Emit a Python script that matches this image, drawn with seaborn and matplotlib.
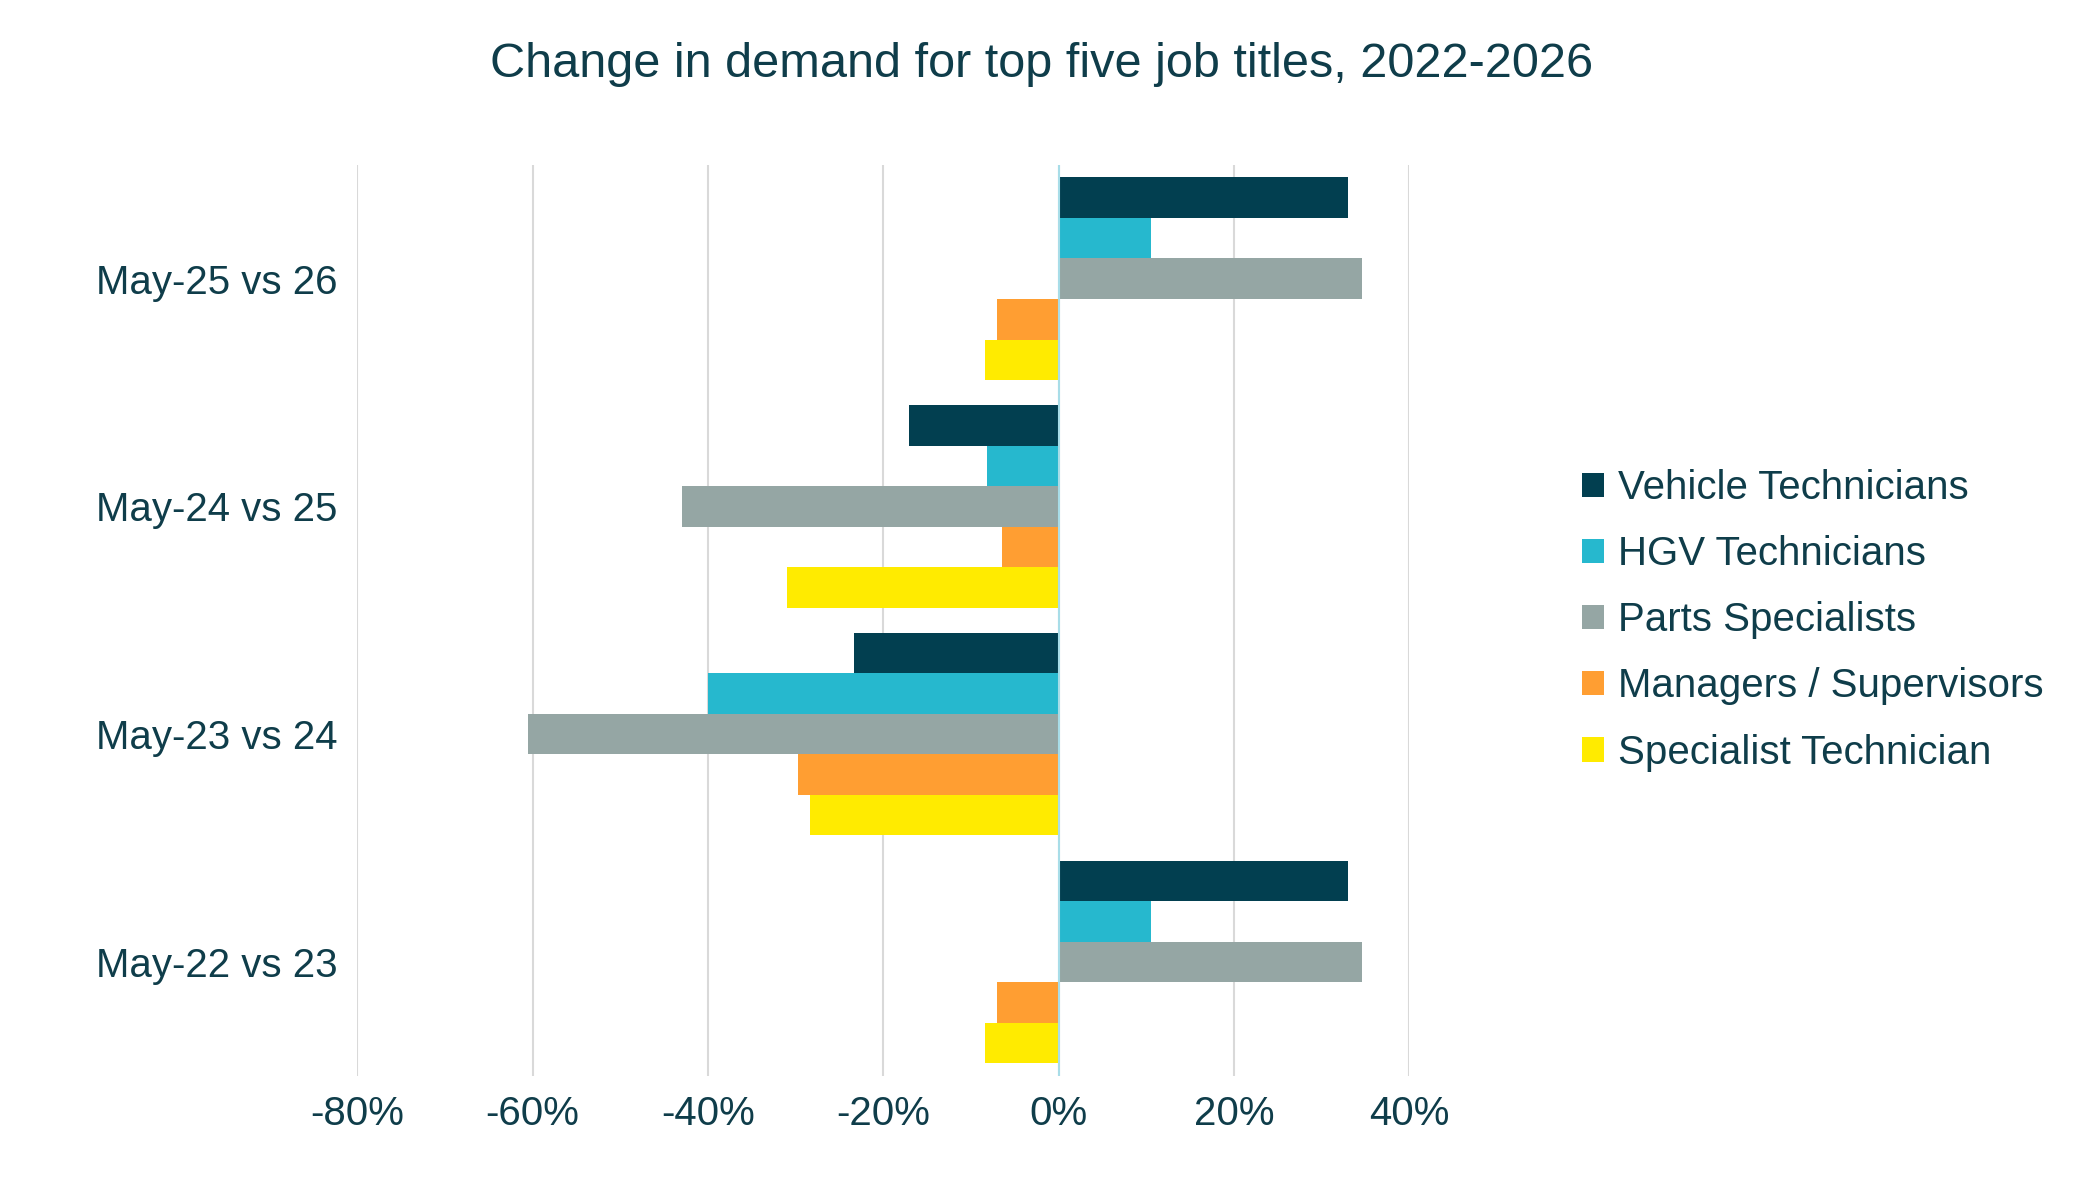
import matplotlib
matplotlib.use("Agg")
import matplotlib.pyplot as plt
import seaborn as sns
import pandas as pd
from matplotlib.ticker import FuncFormatter

categories = ["May-25 vs 26", "May-24 vs 25", "May-23 vs 24", "May-22 vs 23"]
series = ["Vehicle Technicians", "HGV Technicians", "Parts Specialists",
          "Managers / Supervisors", "Specialist Technician"]
vehicle = [0.33, -0.17, -0.233, 0.33]
hgv = [0.105, -0.082, -0.40, 0.105]
parts = [0.346, -0.43, -0.605, 0.346]
managers = [-0.07, -0.064, -0.297, -0.07]
specialist = [-0.084, -0.31, -0.283, -0.084]
colors = ["#023F50", "#26B8CE", "#95A6A4", "#FF9E32", "#FFEB00"]

vals = [vehicle, hgv, parts, managers, specialist]
rows = []
for s, v in zip(series, vals):
    for c, x in zip(categories, v):
        rows.append({"cat": c, "series": s, "value": x})
df = pd.DataFrame(rows)

sns.set_style("white")
txt = "#0F3D4A"
plt.rcParams["font.family"] = ["Liberation Sans", "DejaVu Sans"]
fig = plt.figure(figsize=(20.83, 11.86), dpi=100)
ax = fig.add_axes([0.1715, 0.093, 0.505, 0.768])
sns.barplot(data=df, y="cat", x="value", hue="series", order=categories,
            hue_order=series, palette=colors, orient="h", width=0.89,
            saturation=1, ax=ax, linewidth=0)
ax.set_xlim(-0.8, 0.4)
ax.set_xticks([-0.8, -0.6, -0.4, -0.2, 0, 0.2, 0.4])
ax.xaxis.set_major_formatter(FuncFormatter(lambda v, p: f"{round(v*100):.0f}%"))
ax.grid(axis="x", color="#D9D9D9", linewidth=1.5)
ax.set_axisbelow(True)
ax.axvline(0, color="#A8DDE8", linewidth=1.5, zorder=3)
for s in ax.spines.values():
    s.set_visible(False)
ax.set_xlabel("")
ax.set_ylabel("")
ax.tick_params(axis="both", length=0, labelsize=29, colors=txt, pad=14)
fig.suptitle("Change in demand for top five job titles, 2022-2026",
             fontsize=35, color=txt, y=0.965, x=0.5)
leg = ax.legend(loc="center left", bbox_to_anchor=(1.13, 0.5), frameon=False,
                fontsize=29, handlelength=0.55, handleheight=0.55, labelspacing=0.7,
                handletextpad=0.35)
for t in leg.get_texts():
    t.set_color(txt)
fig.savefig("out.png", dpi=100)
